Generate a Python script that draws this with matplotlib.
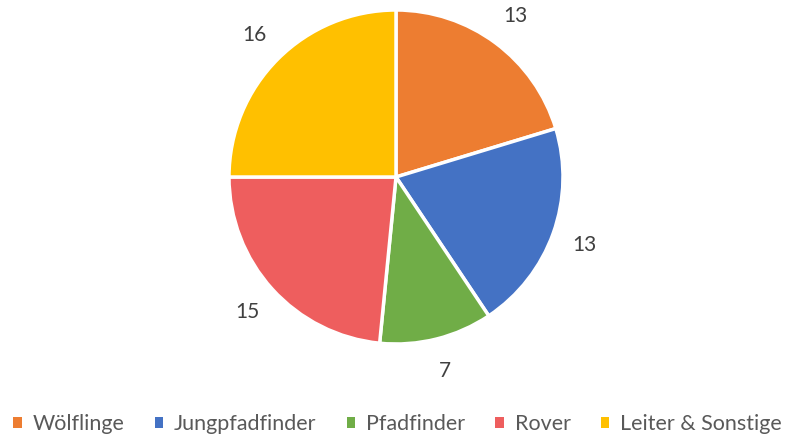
import matplotlib
matplotlib.use('Agg')
import matplotlib.pyplot as plt
from matplotlib.patches import Patch

plt.rcParams['font.family'] = ['Lato', 'DejaVu Sans']

# data
groups = ['Wölflinge', 'Jungpfadfinder', 'Pfadfinder', 'Rover', 'Leiter & Sonstige']
counts = [13, 13, 7, 15, 16]
colors = ['#ED7D31', '#4472C4', '#70AD47', '#EE5E5E', '#FFC000']

W, H = 795, 444
fig = plt.figure(figsize=(W / 100, H / 100), dpi=100)

# place pie: centre (396, 177) px from top, radius ~167 px
cx, cy, r = 396, 177, 167
ax = fig.add_axes([(cx - r) / W, 1 - (cy + r) / H, 2 * r / W, 2 * r / H])
wedges, texts = ax.pie(counts, colors=colors, startangle=90, counterclock=False,
                       labels=[str(c) for c in counts], labeldistance=1.2,
                       wedgeprops=dict(edgecolor='white', linewidth=2.5),
                       textprops=dict(fontsize=15, color='#404040'))
for t in texts:
    t.set_horizontalalignment('center')
    t.set_verticalalignment('center')
ax.set_xlim(-1, 1)
ax.set_ylim(-1, 1)
ax.set_aspect('equal')
ax.axis('off')

handles = [Patch(facecolor=c, edgecolor='none') for c in colors]
fig.legend(handles, groups, loc='center', bbox_to_anchor=(0.5, 1 - 424 / H), ncol=5,
           frameon=False, fontsize=15.5, handlelength=0.4, handleheight=0.4,
           handletextpad=0.5, columnspacing=1.4, labelcolor='#595959')

fig.savefig('out.png', dpi=100)
